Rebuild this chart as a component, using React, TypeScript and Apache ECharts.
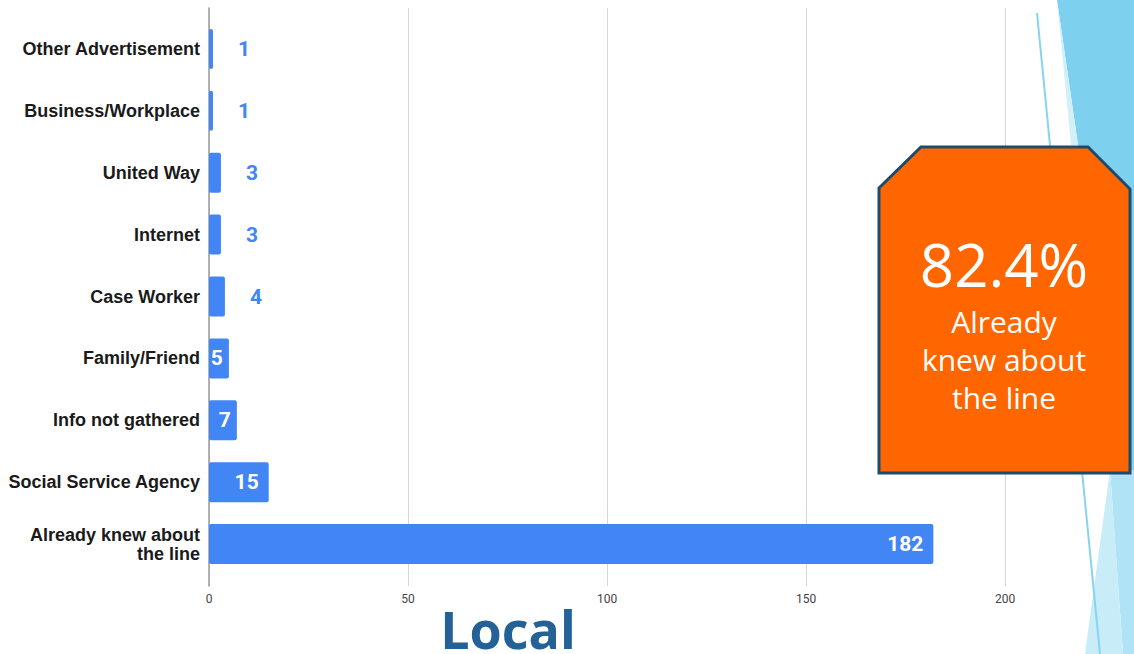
import React, { useEffect, useRef } from "react";
import * as echarts from "echarts";

const categories = [
  "Other Advertisement",
  "Business/Workplace",
  "United Way",
  "Internet",
  "Case Worker",
  "Family/Friend",
  "Info not gathered",
  "Social Service Agency",
  "Already knew about\nthe line",
];
const values = [1, 1, 3, 3, 4, 5, 7, 15, 182];
const xTicks = { min: 0, max: 200, interval: 50 };
const calloutValue = "82.4%";
const calloutLines = ["Already", "knew about", "the line"];
const footerTitle = "Local";

const BLUE = "#4285F4";

export default function App() {
  const ref = useRef<HTMLDivElement>(null);
  useEffect(() => {
    if (!ref.current) return;
    const chart = echarts.init(ref.current, null, { renderer: "svg" });
    const barData = values.map((v) => {
      const outside = v <= 4;
      const small = v < 10;
      return {
        value: v,
        label: outside
          ? { position: "right", distance: 25, color: BLUE }
          : { position: "insideRight", distance: small ? 6 : 10, color: "#ffffff" },
      };
    });
    chart.setOption({
      animation: false,
      backgroundColor: "#ffffff",
      grid: [
        { left: 209, right: 129, top: 8, bottom: 68 },
        { left: 209, right: 129, top: 18, bottom: 79 },
      ],
      xAxis: [
        {
          gridIndex: 0,
          type: "value",
          min: xTicks.min,
          max: xTicks.max,
          interval: xTicks.interval,
          axisLine: { show: false },
          axisTick: { show: false },
          splitLine: { show: true, lineStyle: { color: "#d6d6d6", width: 1 } },
          axisLabel: {
            color: "#444444",
            fontSize: 12,
            fontFamily: "Roboto, Arial, sans-serif",
            margin: 7,
          },
        },
        {
          gridIndex: 1,
          type: "value",
          min: xTicks.min,
          max: xTicks.max,
          show: false,
        },
      ],
      yAxis: [
        {
          gridIndex: 0,
          type: "value",
          min: 0,
          max: 1,
          axisLine: { show: true, lineStyle: { color: "#9a9a9a", width: 1.5 } },
          axisTick: { show: false },
          axisLabel: { show: false },
          splitLine: { show: false },
        },
        {
          gridIndex: 1,
          type: "category",
          data: categories,
          inverse: true,
          axisLine: { show: false },
          axisTick: { show: false },
          splitLine: { show: false },
          axisLabel: {
            color: "#1a1a1a",
            fontSize: 18,
            fontWeight: "bold",
            fontFamily: "Liberation Sans, Arial, sans-serif",
            margin: 9,
            lineHeight: 19,
            align: "right",
          },
        },
      ],
      series: [
        {
          type: "bar",
          xAxisIndex: 1,
          yAxisIndex: 1,
          data: barData,
          barWidth: 40,
          itemStyle: { color: BLUE, borderRadius: 2 },
          label: {
            show: true,
            fontSize: 21,
            fontWeight: "bold",
            fontFamily: "Roboto, Arial, sans-serif",
          },
          z: 3,
        },
      ],
      graphic: [
        // right decorations
        {
          type: "polygon",
          z: 1,
          silent: true,
          shape: { points: [[1057, 0], [1134, 0], [1134, 530]] },
          style: { fill: "#7DD0EE" },
        },
        {
          type: "polygon",
          z: 1,
          silent: true,
          shape: { points: [[1057, 0], [1071, 145], [1078, 145]] },
          style: { fill: "#D2EFFA" },
        },
        {
          type: "polygon",
          z: 1,
          silent: true,
          shape: { points: [[1110, 470], [1134, 470], [1134, 654], [1123, 654]] },
          style: { fill: "#B0E3F5" },
        },
        {
          type: "polygon",
          z: 1,
          silent: true,
          shape: { points: [[1110, 470], [1123, 654], [1085, 654]] },
          style: { fill: "#C8ECF8" },
        },
        {
          type: "line",
          z: 2,
          silent: true,
          shape: { x1: 1037, y1: 13, x2: 1100, y2: 654 },
          style: { stroke: "#86D4F0", lineWidth: 2 },
        },
        // callout box
        {
          type: "polygon",
          z: 10,
          silent: true,
          shape: {
            points: [
              [879, 188],
              [921, 147],
              [1088, 147],
              [1130, 189],
              [1130, 473],
              [879, 473],
            ],
          },
          style: { fill: "#FF6600", stroke: "#1E4A6C", lineWidth: 3 },
        },
        {
          type: "text",
          z: 11,
          silent: true,
          x: 1004,
          y: 264,
          style: {
            text: calloutValue,
            fill: "#ffffff",
            font: "normal 60px 'Open Sans', sans-serif",
            lineHeight: 52,
            align: "center",
            verticalAlign: "middle",
          },
        },
        ...calloutLines.map((t, i) => ({
          type: "text",
          z: 11,
          silent: true,
          x: 1004,
          y: 321 + i * 38,
          style: {
            text: t,
            fill: "#ffffff",
            font: "normal 30px 'Open Sans', sans-serif",
            lineHeight: 32,
            align: "center",
            verticalAlign: "middle",
          },
        })),
        {
          type: "text",
          z: 11,
          silent: true,
          x: 508,
          y: 628,
          style: {
            text: footerTitle,
            fill: "#236196",
            font: "bold 52px 'Open Sans', sans-serif",
            lineHeight: 44,
            align: "center",
            verticalAlign: "middle",
          },
        },
      ],
    });
    return () => chart.dispose();
  }, []);
  return (
    <div
      ref={ref}
      style={{ position: "absolute", left: 0, top: 0, width: 1134, height: 654 }}
    />
  );
}
